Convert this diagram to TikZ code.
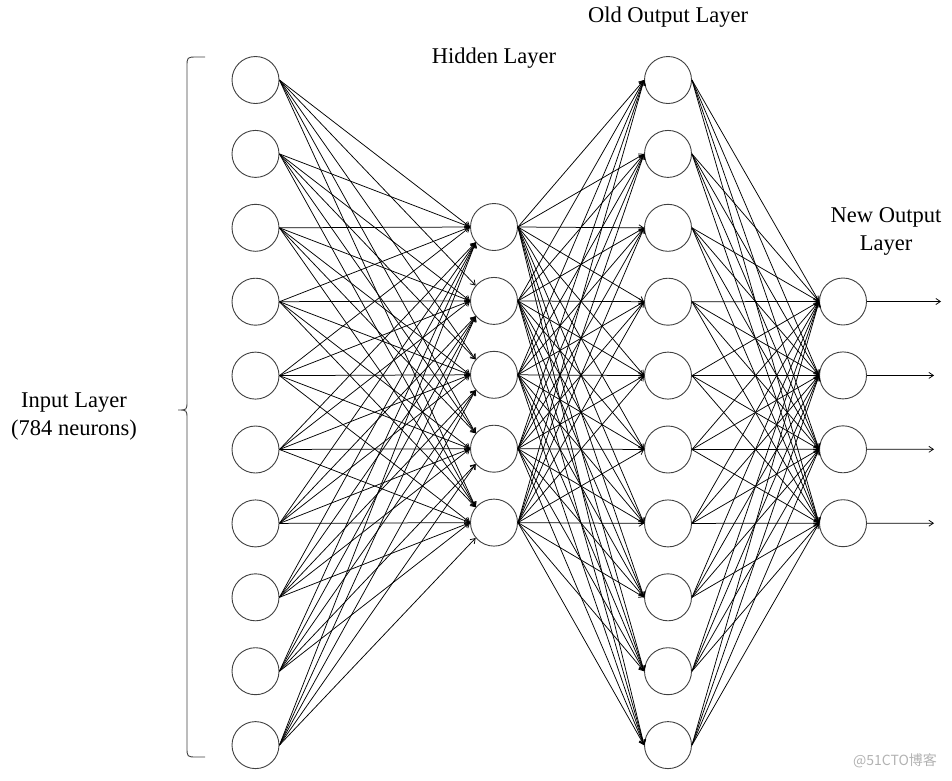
\documentclass[tikz,border=0pt]{standalone}
\usepackage{fontspec}
\setmainfont{Liberation Serif}
\newfontfamily\cjkfont{Noto Sans CJK SC}
\usetikzlibrary{arrows.meta}
\begin{document}
\begin{tikzpicture}[x=1pt,y=-1pt,
  neuron/.style={circle,draw=black!75,line width=0.9pt,minimum size=47pt,inner sep=0pt,fill=white},
  conn/.style={line width=0.75pt,-{Straight Barb[length=4.5pt,width=6pt]}},
  lbl/.style={font=\fontsize{22.5}{28}\selectfont,align=center,inner sep=0pt}]
\useasboundingbox (0,0) rectangle (952,780);
% input layer
\foreach \i in {0,...,9} \node[neuron] (in\i) at (255.5,{80+\i*73.9}) {};
% hidden layer
\foreach \j in {0,...,4} \node[neuron] (h\j) at (494,{227+\j*73.9}) {};
% old output layer
\foreach \k in {0,...,9} \node[neuron] (o\k) at (668,{80+\k*73.9}) {};
% new output layer
\foreach \m in {0,...,3} \node[neuron] (n\m) at (843,{301.5+\m*73.9}) {};
% free ends of the output arrows
\coordinate (e0) at (941,301.5);
\coordinate (e1) at (934,375.4);
\coordinate (e2) at (934,449.3);
\coordinate (e3) at (934,523.2);
% input -> hidden
\foreach \i in {0,...,9} \foreach \j in {0,...,4} {
  \pgfmathtruncatemacro{\d}{\i-\j-2}
  \ifnum\d<-2
    \draw[conn] (in\i.east) -- (h\j.140);
  \else\ifnum\d>2
    \draw[conn] (in\i.east) -- (h\j.220);
  \else
    \draw[conn] (in\i.east) -- (h\j.west);
  \fi\fi
}
% hidden -> old output
\foreach \j in {0,...,4} \foreach \k in {0,...,9} \draw[conn] (h\j.east) -- (o\k.west);
% old output -> new output
\foreach \k in {0,...,9} \foreach \m in {0,...,3} \draw[conn] (o\k.east) -- (n\m.west);
% outputs
\foreach \m in {0,...,3} \draw[conn] (n\m.east) -- (e\m);
% brace
\draw[black!75,line width=0.9pt]
  (205,57) -- (197,57) .. controls (187,57) .. (187,67) -- (187,401)
  .. controls (187,410) .. (178,410) .. controls (187,410) .. (187,419)
  -- (187,747) .. controls (187,757) .. (197,757) -- (205,757);
% labels
\node[lbl] (tin) at (74,417) {Input Layer\\(784 neurons)};
\node[lbl] (th) at (494,58) {Hidden Layer};
\node[lbl] (to) at (668,17) {Old Output Layer};
\node[lbl] (tn) at (886,231) {New Output\\Layer};
\node[text=black!30,font=\cjkfont\fontsize{14}{16}\selectfont,inner sep=0pt] (wm) at (895,761) {@51CTO博客};
\end{tikzpicture}
\end{document}
